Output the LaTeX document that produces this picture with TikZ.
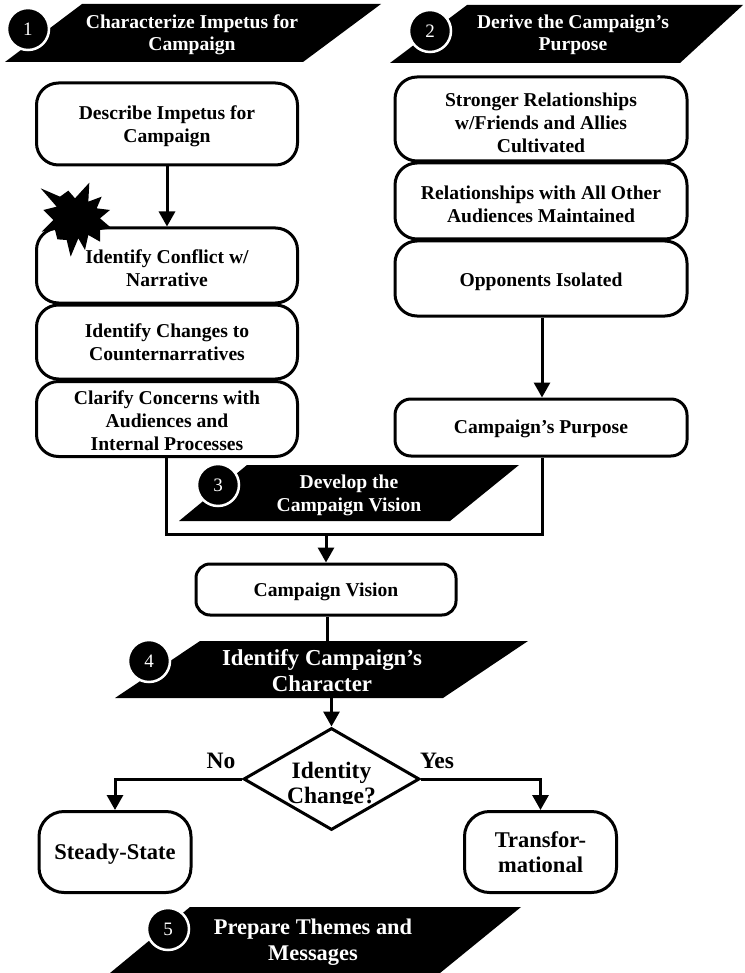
\documentclass[tikz,border=0pt]{standalone}
\usepackage{fontspec}
\setmainfont{Liberation Serif}
\usepackage{tikz}
\usetikzlibrary{arrows.meta,calc,shapes.geometric}
\newcommand{\toprule}[1]{\rule{0pt}{#1}}

\begin{document}
\begin{tikzpicture}[x=1pt,y=-1pt]
\tikzstyle{stepbox} = [draw, line width=3pt, rounded corners=22pt, fill=white, align=center, font=\bfseries\fontsize{19.6}{23}\selectfont, inner sep=0pt]
\tikzstyle{band} = [fill=black, draw=none]
\tikzstyle{bandtext} = [text=white, align=center, font=\bfseries\fontsize{19.6}{22.5}\selectfont, inner sep=0pt]
\tikzstyle{badge} = [circle, fill=black, draw=white, line width=2.5pt, minimum size=42pt, inner sep=0pt, text=white, font=\fontsize{19}{20}\selectfont]
\tikzstyle{flow} = [line width=3pt, -{Triangle[length=15pt,width=16pt]}]
\tikzstyle{large} = [font=\bfseries\fontsize{22.5}{25}\selectfont]
\tikzstyle{choice} = [font=\bfseries\fontsize{23.5}{25}\selectfont]
\useasboundingbox (0,0) rectangle (744,973);
% banners
\fill[band] (82,4) -- (381,4) -- (303,62) -- (5,62) -- cycle;
\node[bandtext] (tone) at (192,35) {Characterize Impetus for\\Campaign};
\node[badge] (bone) at (28,29) {1};
\fill[band] (467,5) -- (743,5) -- (680,63) -- (390,63) -- cycle;
\node[bandtext] (ttwo) at (573,35) {Derive the Campaign's\\Purpose};
\node[badge] (btwo) at (430,31) {2};
\fill[band] (247,465) -- (519,465) -- (450,521) -- (179,521) -- cycle;
\node[bandtext] (tthree) at (349,495.5) {Develop the\\Campaign Vision};
\node[badge] (bthree) at (218,485) {3};
\fill[band] (200,641) -- (528,641) -- (443,698) -- (115,698) -- cycle;
\node[bandtext, font=\bfseries\fontsize{22.8}{26}\selectfont] (tfour) at (322,671) {Identify Campaign's\\Character};
\node[badge] (bfour) at (149,661) {4};
\fill[band] (190,907) -- (521,907) -- (440,973) -- (110,973) -- cycle;
\node[bandtext, font=\bfseries\fontsize{22.4}{26}\selectfont] (tfive) at (313,942) {Prepare Themes and\\Messages};
\node[badge] (bfive) at (168,929) {5};
% left column
\node[stepbox, minimum width=261pt, minimum height=82pt] (impetus) at (167,124) {\toprule{18pt}Describe Impetus for\\Campaign};
\node[stepbox, minimum width=261pt, minimum height=75pt] (conflict) at (167,265.5) {\toprule{19pt}Identify Conflict w/\\Narrative};
\node[stepbox, minimum width=261pt, minimum height=74pt] (changes) at (167,342) {Identify Changes to\\Counternarratives};
\node[stepbox, minimum width=261pt, minimum height=75pt] (clarify) at (167,419) {\toprule{18pt}Clarify Concerns with\\Audiences and\\Internal Processes};
% burst on the corner of the conflict box
\fill[black, x=1pt/3, y=-1pt/3] (122,565) -- (180,590) -- (205,572) -- (225,595) -- (268,548) -- (265,605) -- (305,590) -- (290,625) -- (330,630) -- (300,655) -- (335,685) -- (300,690) -- (300,725) -- (265,705) -- (255,750) -- (235,715) -- (212,770) -- (200,720) -- (172,718) -- (165,690) -- (125,695) -- (160,660) -- (130,630) -- (170,620) -- cycle;
% right column
\node[stepbox, minimum width=292pt, minimum height=84pt] (friends) at (541,119) {\toprule{21pt}Stronger Relationships\\w/Friends and Allies\\Cultivated};
\node[stepbox, minimum width=292pt, minimum height=76pt] (others) at (541,201) {\toprule{19.5pt}Relationships with All Other\\Audiences Maintained};
\node[stepbox, minimum width=292pt, minimum height=75pt] (opponents) at (541,278.5) {\toprule{19.5pt}Opponents Isolated};
\node[stepbox, minimum width=292pt, minimum height=57pt, rounded corners=16pt] (purpose) at (541,427.5) {\toprule{15.5pt}Campaign's Purpose};
% lower part
\node[stepbox, minimum width=260pt, minimum height=51pt, rounded corners=14pt] (vision) at (326,589.5) {\toprule{18pt}Campaign Vision};
\node[diamond, draw, line width=3pt, fill=white, minimum width=176pt, minimum height=102pt, inner sep=0pt] (change) at (331.5,779) {};
\begin{scope}
\clip (250,740) rectangle (410,803);
\node[choice, align=center, inner sep=0pt] (changetext) at (331.5,785) {Identity\\Change?};
\end{scope}
\node[stepbox, large, minimum width=152pt, minimum height=81pt, rounded corners=25pt] (steady) at (115,852) {\toprule{19pt}Steady-State};
\node[stepbox, large, minimum width=152pt, minimum height=81pt, rounded corners=25pt] (transform) at (540.5,852) {Transfor-\\mational};
\node[choice] (nolabel) at (221,761) {No};
\node[choice] (yeslabel) at (437,761) {Yes};
% connectors
\coordinate (leftdrop) at (166,534);
\coordinate (rightdrop) at (542,534);
\coordinate (mid) at (326,534);
\coordinate (visionout) at (327,641);
\coordinate (fourout) at (331.5,698);
\draw[flow] (impetus) -- (conflict);
\draw[flow] (opponents.south -| rightdrop) -- (purpose.north -| rightdrop);
\draw[line width=3pt] (clarify.south -| leftdrop) -- (leftdrop) -- (rightdrop) -- (purpose.south -| rightdrop);
\draw[flow] (mid) -- (vision);
\draw[line width=3pt] (vision.south -| visionout) -- (visionout);
\draw[flow] (fourout) -- (change.north);
\draw[flow] (change.west) -| (steady.north);
\draw[flow] (change.east) -| (transform.north);
\end{tikzpicture}
\end{document}
